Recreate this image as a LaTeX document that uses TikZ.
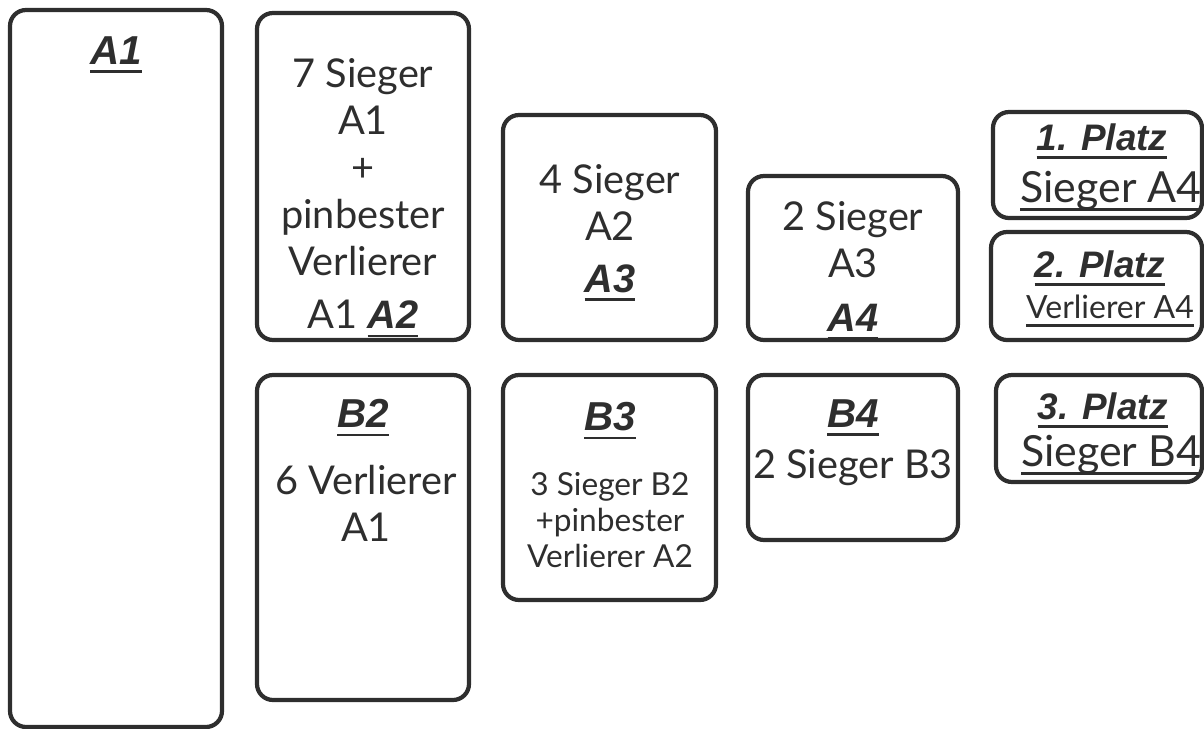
\documentclass[tikz,border=0pt]{standalone}
\usepackage{fontspec}
\setmainfont{Lato}
\newfontfamily\headfont{Liberation Sans}
\usetikzlibrary{positioning}
\definecolor{ink}{HTML}{2E2E2E}

\newsavebox\ulbox
\newcommand{\ul}[1]{\sbox\ulbox{#1}\rlap{\rule[-2.4pt]{\wd\ulbox}{0.8pt}}\usebox\ulbox}
\newcommand{\hd}[1]{\ul{\headfont\bfseries\itshape #1}}

\begin{document}
\begin{tikzpicture}[x=0.1mm, y=-0.1mm,
  box/.style={draw=ink, line width=1.2pt, rounded corners=0.16cm},
  big/.style={text=ink, align=center, inner sep=0pt, font=\fontsize{11.3}{13.4}\selectfont},
  small/.style={text=ink, align=center, inner sep=0pt, font=\fontsize{9}{10.3}\selectfont},
  head/.style={text=ink, inner sep=0pt, font=\fontsize{11.5}{13}\selectfont},
  platz/.style={text=ink, inner sep=0pt, font=\fontsize{10.5}{12}\selectfont}]

\useasboundingbox (0,0) rectangle (1204,729);

% boxes
\draw[box] (10,10) rectangle (222,727);
\draw[box] (257,13) rectangle (469,340);
\draw[box] (503,115) rectangle (716,340);
\draw[box] (748,176) rectangle (958,340);

\draw[box] (257,375) rectangle (469,700);
\draw[box] (503,375) rectangle (716,600);
\draw[box] (748,375) rectangle (958,540);

\draw[box] (993,112) rectangle (1202,218);
\draw[box] (991,232) rectangle (1202,340);
\draw[box] (996,375) rectangle (1202,482);

% upper row
\node[head] (a1head) at (116,55) {\hd{A1}};
\node[big] (a2text) at (363,198) {7 Sieger\\A1\\+\\pinbester\\Verlierer\\[1.7pt]A1 \hd{A2}};
\node[big] (a3text) at (610,233) {4 Sieger\\A2\\[1.4pt]\hd{A3}};
\node[big] (a4text) at (853,270.5) {2 Sieger\\A3\\[2pt]\hd{A4}};

% lower row
\node[head] (b2head) at (363,418) {\hd{B2}};
\node[big] (b2text) at (366,503) {6 Verlierer\\A1};
\node[head] (b3head) at (610,421) {\hd{B3}};
\node[small] (b3text) at (610,520) {3 Sieger B2\\+pinbester\\Verlierer A2};
\node[head] (b4head) at (853,418) {\hd{B4}};
\node[big] (b4text) at (853,468) {2 Sieger B3};

% places
\node[platz] (p1head) at (1102,141) {\hd{1. Platz}};
\node[big, font=\fontsize{12.2}{14}\selectfont] (p1text) at (1111,191) {\ul{Sieger A4}};
\node[platz] (p2head) at (1100,268) {\hd{2. Platz}};
\node[big, font=\fontsize{9.1}{11}\selectfont] (p2text) at (1110,311) {\ul{Verlierer A4}};
\node[platz] (p3head) at (1103,410) {\hd{3. Platz}};
\node[big, font=\fontsize{12.2}{14}\selectfont] (p3text) at (1111,455) {\ul{Sieger B4}};

\end{tikzpicture}
\end{document}
